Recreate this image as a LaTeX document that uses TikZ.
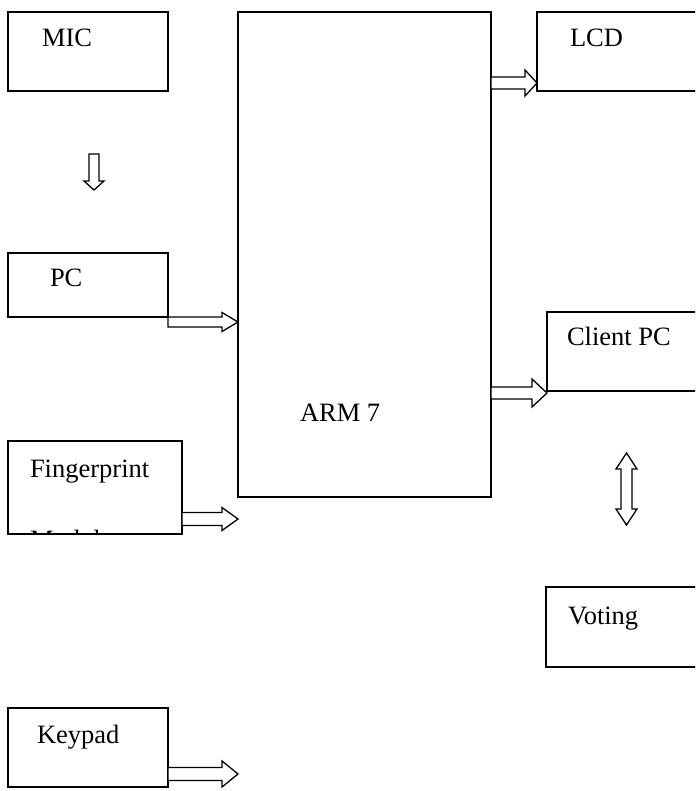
\documentclass[tikz,border=0pt]{standalone}
\usepackage{fontspec}
\setmainfont{Liberation Serif}
\usetikzlibrary{calc}

\tikzset{
  box/.style={draw, line width=1.5pt, rectangle, anchor=north west,
              inner sep=0pt, outer sep=0pt},
  boxtext/.style={anchor=base west, inner sep=0pt, outer sep=0pt,
                  font=\fontsize{26.5}{30}\selectfont},
  blockarrow/.style={draw, fill=white, line width=1.3pt, line join=miter},
}

% horizontal hollow arrow: start, tip, shaft half-width, head half-width, head length
\newcommand{\hblock}[5]{%
  \draw[blockarrow] let \p1=#1, \p2=#2 in
    (\x1,\y1+#3pt) -- (\x2-#5pt,\y1+#3pt) -- (\x2-#5pt,\y1+#4pt) -- (\x2,\y1)
    -- (\x2-#5pt,\y1-#4pt) -- (\x2-#5pt,\y1-#3pt) -- (\x1,\y1-#3pt) -- cycle;}

% downward hollow arrow: start (top), tip, shaft half-width, head half-width, head length
\newcommand{\vblock}[5]{%
  \draw[blockarrow] let \p1=#1, \p2=#2 in
    (\x1-#3pt,\y1) -- (\x1-#3pt,\y2+#5pt) -- (\x1-#4pt,\y2+#5pt) -- (\x1,\y2)
    -- (\x1+#4pt,\y2+#5pt) -- (\x1+#3pt,\y2+#5pt) -- (\x1+#3pt,\y1) -- cycle;}

\begin{document}
\begin{tikzpicture}[x=1pt, y=-1pt]
  \useasboundingbox (0,0) rectangle (695,791);
  \clip (0,0) rectangle (695,791);

  % blocks
  \node[box, minimum width=160, minimum height=79]  (mic)    at (8,12)    {};
  \node[box, minimum width=160, minimum height=64]  (pc)     at (8,253)   {};
  \node[box, minimum width=174, minimum height=93]  (fp)     at (8,441)   {};
  \node[box, minimum width=160, minimum height=79]  (keypad) at (8,708)   {};
  \node[box, minimum width=253, minimum height=485] (arm)    at (238,12)  {};
  \node[box, minimum width=190, minimum height=79]  (lcd)    at (537,12)  {};
  \node[box, minimum width=180, minimum height=79]  (client) at (547,312) {};
  \node[box, minimum width=180, minimum height=80]  (voting) at (546,587) {};

  % labels
  \node[boxtext] (micT)    at (42,47)   {MIC};
  \node[boxtext] (pcT)     at (50,287)  {PC};
  \node[boxtext] (fpT)     at (30,477)  {Fingerprint};
  \begin{scope}
    \clip (fp.north west) rectangle (fp.south east);
    \node[boxtext] (fpT2) at (30,548) {Module};
  \end{scope}
  \node[boxtext] (keypadT) at (37,743)  {Keypad};
  \node[boxtext] (armT)    at (300,421) {ARM 7};
  \node[boxtext] (lcdT)    at (570,47)  {LCD};
  \node[boxtext] (clientT) at (567,345) {Client PC};
  \node[boxtext] (votingT) at (568,624) {Voting};

  % connectors
  \coordinate (micA) at (94,154);
  \coordinate (micB) at (94,190);
  \vblock{(micA)}{(micB)}{5}{10}{9}

  \hblock{(pc.east |- 0,322)}{(arm.west |- 0,322)}{5}{9.5}{16}
  \hblock{(fp.east |- 0,519)}{(arm.west |- 0,519)}{6.5}{11.5}{16}
  \hblock{(keypad.east |- 0,774)}{(arm.west |- 0,774)}{6.5}{13}{16}
  \hblock{(arm.east |- 0,83)}{(lcd.west |- 0,83)}{6}{13}{12}
  \hblock{(arm.east |- 0,393)}{(client.west |- 0,393)}{6}{14}{15}

  % two-way link between client PC and voting
  \coordinate (linkA) at (626.5,453);
  \coordinate (linkB) at (626.5,525);
  \draw[blockarrow] let \p1=(linkA), \p2=(linkB) in
    (\x1,\y1) -- (\x1+10.5pt,\y1-16pt) -- (\x1+5.5pt,\y1-16pt)
    -- (\x1+5.5pt,\y2+16pt) -- (\x1+10.5pt,\y2+16pt) -- (\x1,\y2)
    -- (\x1-10.5pt,\y2+16pt) -- (\x1-5.5pt,\y2+16pt)
    -- (\x1-5.5pt,\y1-16pt) -- (\x1-10.5pt,\y1-16pt) -- cycle;
\end{tikzpicture}
\end{document}
